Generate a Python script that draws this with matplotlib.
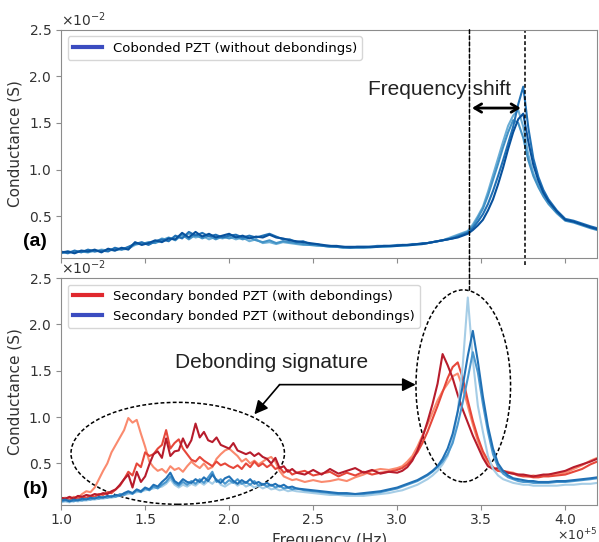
import numpy as np
import matplotlib
matplotlib.use("Agg")
import matplotlib.pyplot as plt
from matplotlib.lines import Line2D
from matplotlib.patches import Ellipse, ConnectionPatch
from matplotlib.ticker import FuncFormatter


# Frequenzraster in 1e5 Hz (fein im Resonanzbereich)
freq_oben = np.concatenate([np.arange(100, 301, 4), np.arange(303, 391, 3),
                            [395, 400, 405, 410, 415, 419]]) / 100
freq_unten = np.concatenate([np.arange(1000, 2401, 25) / 1000, np.arange(245, 301, 5) / 100,
                             np.arange(303, 391, 3) / 100, [3.95, 4.00, 4.05, 4.10, 4.15, 4.19]])

# (a) Cobonded PZT, Leitwert in 1e-2 S
oben_dunkel = [
    0.11, 0.12, 0.10, 0.13, 0.12, 0.14, 0.11, 0.15, 0.13, 0.16,
    0.14, 0.22, 0.19, 0.21, 0.24, 0.22, 0.26, 0.25, 0.32, 0.27,
    0.33, 0.28, 0.31, 0.27, 0.29, 0.31, 0.27, 0.29, 0.26, 0.28,
    0.27, 0.30, 0.27, 0.26, 0.24, 0.23, 0.22, 0.21, 0.20, 0.19,
    0.18, 0.18, 0.17, 0.17, 0.17, 0.17, 0.17, 0.17, 0.18, 0.18, 0.18,
    0.19, 0.19, 0.19, 0.20, 0.20, 0.21, 0.22, 0.23, 0.24, 0.25,
    0.26, 0.27, 0.29, 0.31, 0.35, 0.40, 0.46, 0.56, 0.68, 0.84,
    1.02, 1.22, 1.40, 1.54, 1.60, 1.30, 1.05, 0.88, 0.75, 0.66,
    0.55, 0.46, 0.44, 0.41, 0.38, 0.36,
]
oben_mittel = [
    0.12, 0.10, 0.13, 0.11, 0.14, 0.12, 0.13, 0.12, 0.16, 0.14,
    0.17, 0.20, 0.22, 0.19, 0.23, 0.25, 0.23, 0.29, 0.26, 0.33,
    0.29, 0.32, 0.28, 0.30, 0.27, 0.29, 0.30, 0.27, 0.29, 0.27,
    0.29, 0.31, 0.28, 0.25, 0.25, 0.22, 0.23, 0.20, 0.20, 0.18,
    0.18, 0.17, 0.17, 0.16, 0.17, 0.17, 0.17, 0.18, 0.18, 0.18, 0.19,
    0.19, 0.19, 0.20, 0.20, 0.21, 0.21, 0.22, 0.23, 0.24, 0.25,
    0.26, 0.28, 0.30, 0.32, 0.37, 0.44, 0.52, 0.63, 0.77, 0.93,
    1.10, 1.28, 1.46, 1.70, 1.89, 1.45, 1.12, 0.92, 0.78, 0.68,
    0.56, 0.47, 0.45, 0.42, 0.39, 0.37,
]
oben_hell = [
    0.10, 0.12, 0.11, 0.12, 0.11, 0.13, 0.12, 0.14, 0.13, 0.15,
    0.16, 0.21, 0.20, 0.22, 0.21, 0.24, 0.27, 0.24, 0.30, 0.25,
    0.30, 0.26, 0.29, 0.25, 0.28, 0.26, 0.28, 0.25, 0.27, 0.24,
    0.22, 0.24, 0.21, 0.23, 0.22, 0.21, 0.20, 0.19, 0.19, 0.18,
    0.17, 0.17, 0.16, 0.16, 0.16, 0.16, 0.17, 0.17, 0.17, 0.18, 0.18,
    0.18, 0.19, 0.19, 0.20, 0.20, 0.21, 0.22, 0.23, 0.24, 0.25,
    0.27, 0.29, 0.31, 0.33, 0.39, 0.48, 0.58, 0.72, 0.89, 1.06,
    1.24, 1.40, 1.53, 1.50, 1.34, 1.10, 0.93, 0.81, 0.71, 0.63,
    0.53, 0.45, 0.43, 0.40, 0.37, 0.35,
]
oben_sehr_hell = [
    0.11, 0.11, 0.12, 0.12, 0.13, 0.12, 0.14, 0.13, 0.15, 0.14,
    0.15, 0.19, 0.21, 0.20, 0.22, 0.26, 0.24, 0.28, 0.27, 0.31,
    0.27, 0.29, 0.25, 0.28, 0.26, 0.28, 0.25, 0.27, 0.23, 0.25,
    0.21, 0.22, 0.20, 0.22, 0.21, 0.20, 0.19, 0.19, 0.18, 0.18,
    0.17, 0.17, 0.16, 0.16, 0.16, 0.16, 0.16, 0.17, 0.17, 0.17, 0.18,
    0.18, 0.18, 0.19, 0.19, 0.20, 0.21, 0.22, 0.23, 0.24, 0.26,
    0.28, 0.30, 0.32, 0.34, 0.41, 0.50, 0.60, 0.76, 0.94, 1.12,
    1.30, 1.47, 1.58, 1.64, 1.46, 1.16, 0.96, 0.83, 0.73, 0.65,
    0.54, 0.46, 0.44, 0.41, 0.38, 0.36,
]

# (b) Secondary bonded PZT mit Abloesungen (rot)
rot_dunkel = [
    0.13, 0.12, 0.14, 0.12, 0.15, 0.14, 0.16, 0.15, 0.17, 0.16,
    0.18, 0.17, 0.20, 0.22, 0.27, 0.33, 0.38, 0.24, 0.41, 0.30,
    0.36, 0.49, 0.60, 0.63, 0.56, 0.77, 0.58, 0.63, 0.64, 0.77,
    0.67, 0.75, 0.93, 0.78, 0.84, 0.75, 0.73, 0.78, 0.70, 0.68,
    0.66, 0.72, 0.64, 0.62, 0.60, 0.62, 0.58, 0.61, 0.57, 0.55,
    0.50, 0.56, 0.45, 0.47, 0.41, 0.44, 0.40,
    0.38, 0.43, 0.38, 0.44, 0.39, 0.42, 0.45, 0.40, 0.43, 0.39, 0.41, 0.40,
    0.42, 0.46, 0.53, 0.64, 0.78, 0.95, 1.14, 1.36, 1.68, 1.56,
    1.42, 1.24, 1.08, 0.94, 0.80, 0.68, 0.56, 0.47, 0.44, 0.45,
    0.42, 0.40, 0.39, 0.38, 0.38, 0.37, 0.36, 0.37, 0.38, 0.38,
    0.40, 0.42, 0.46, 0.49, 0.52, 0.55,
]
rot_mittel = [
    0.10, 0.12, 0.11, 0.13, 0.12, 0.14, 0.13, 0.15, 0.14, 0.17,
    0.16, 0.19, 0.18, 0.22, 0.26, 0.33, 0.41, 0.37, 0.50, 0.46,
    0.62, 0.58, 0.60, 0.66, 0.70, 0.86, 0.66, 0.72, 0.76, 0.66,
    0.60, 0.54, 0.52, 0.57, 0.53, 0.50, 0.47, 0.52, 0.48, 0.50,
    0.47, 0.45, 0.48, 0.44, 0.50, 0.46, 0.52, 0.47, 0.50, 0.46,
    0.49, 0.44, 0.46, 0.40, 0.43, 0.38, 0.40,
    0.42, 0.37, 0.39, 0.41, 0.36, 0.40, 0.37, 0.41, 0.38, 0.40, 0.41, 0.43,
    0.45, 0.49, 0.55, 0.62, 0.72, 0.84, 0.98, 1.12, 1.27, 1.42,
    1.54, 1.59, 1.42, 1.18, 0.96, 0.78, 0.63, 0.53, 0.46, 0.42,
    0.41, 0.40, 0.39, 0.37, 0.36, 0.36, 0.35, 0.35, 0.36, 0.36,
    0.37, 0.38, 0.41, 0.44, 0.49, 0.52,
]
rot_hell = [
    0.12, 0.13, 0.11, 0.14, 0.13, 0.17, 0.20, 0.19, 0.24, 0.33,
    0.42, 0.50, 0.62, 0.70, 0.78, 0.86, 0.99, 0.94, 0.97, 0.82,
    0.68, 0.52, 0.46, 0.42, 0.44, 0.40, 0.47, 0.43, 0.45, 0.41,
    0.47, 0.52, 0.48, 0.45, 0.50, 0.44, 0.46, 0.55, 0.60, 0.64,
    0.66, 0.62, 0.58, 0.52, 0.55, 0.50, 0.53, 0.49, 0.52, 0.55,
    0.57, 0.52, 0.42, 0.36, 0.34, 0.32, 0.33,
    0.30, 0.32, 0.30, 0.31, 0.33, 0.31, 0.35, 0.38, 0.42, 0.44, 0.43, 0.45,
    0.47, 0.52, 0.58, 0.68, 0.80, 0.92, 1.05, 1.18, 1.28, 1.36,
    1.44, 1.47, 1.32, 1.12, 0.92, 0.74, 0.60, 0.50, 0.44, 0.42,
    0.42, 0.41, 0.40, 0.38, 0.37, 0.36, 0.37, 0.36, 0.37, 0.38,
    0.39, 0.40, 0.44, 0.48, 0.53, 0.56,
]

# (b) Secondary bonded PZT ohne Abloesungen (blau)
blau_dunkel = [
    0.10, 0.11, 0.09, 0.11, 0.10, 0.12, 0.11, 0.13, 0.12, 0.14,
    0.13, 0.15, 0.14, 0.16, 0.15, 0.18, 0.20, 0.18, 0.22, 0.20,
    0.24, 0.22, 0.27, 0.25, 0.30, 0.34, 0.40, 0.31, 0.28, 0.33,
    0.30, 0.29, 0.33, 0.30, 0.35, 0.31, 0.38, 0.32, 0.29, 0.34,
    0.36, 0.31, 0.28, 0.32, 0.29, 0.33, 0.28, 0.30, 0.27, 0.29,
    0.26, 0.28, 0.25, 0.27, 0.24, 0.25, 0.23,
    0.22, 0.21, 0.20, 0.19, 0.18, 0.18, 0.17, 0.18, 0.19, 0.20, 0.22, 0.24,
    0.26, 0.28, 0.30, 0.32, 0.35, 0.38, 0.42, 0.47, 0.55, 0.66,
    0.82, 1.06, 1.34, 1.66, 1.93, 1.60, 1.22, 0.90, 0.66, 0.50,
    0.42, 0.37, 0.34, 0.33, 0.32, 0.31, 0.31, 0.30, 0.30, 0.30,
    0.31, 0.31, 0.32, 0.33, 0.34, 0.35,
]
blau_mittel = [
    0.09, 0.10, 0.10, 0.09, 0.11, 0.10, 0.12, 0.11, 0.13, 0.12,
    0.14, 0.13, 0.15, 0.14, 0.17, 0.16, 0.19, 0.17, 0.21, 0.19,
    0.23, 0.21, 0.25, 0.23, 0.27, 0.30, 0.36, 0.29, 0.26, 0.30,
    0.27, 0.31, 0.28, 0.33, 0.29, 0.35, 0.41, 0.30, 0.33, 0.28,
    0.32, 0.29, 0.33, 0.28, 0.30, 0.27, 0.31, 0.26, 0.28, 0.25,
    0.27, 0.24, 0.26, 0.23, 0.24, 0.22, 0.23,
    0.21, 0.20, 0.19, 0.18, 0.17, 0.17, 0.17, 0.17, 0.18, 0.19, 0.21, 0.23,
    0.25, 0.27, 0.29, 0.31, 0.34, 0.37, 0.41, 0.46, 0.52, 0.60,
    0.72, 0.92, 1.16, 1.42, 1.70, 1.48, 1.14, 0.84, 0.60, 0.46,
    0.39, 0.35, 0.33, 0.31, 0.30, 0.30, 0.29, 0.29, 0.29, 0.29,
    0.30, 0.30, 0.31, 0.32, 0.33, 0.34,
]
blau_hell = [
    0.08, 0.09, 0.08, 0.10, 0.09, 0.10, 0.10, 0.11, 0.11, 0.12,
    0.12, 0.13, 0.13, 0.14, 0.15, 0.16, 0.17, 0.18, 0.19, 0.20,
    0.21, 0.22, 0.23, 0.24, 0.25, 0.28, 0.33, 0.27, 0.24, 0.27,
    0.25, 0.28, 0.26, 0.30, 0.27, 0.31, 0.28, 0.33, 0.27, 0.25,
    0.28, 0.30, 0.26, 0.29, 0.25, 0.27, 0.24, 0.26, 0.23, 0.25,
    0.22, 0.23, 0.21, 0.22, 0.20, 0.21, 0.20,
    0.19, 0.18, 0.17, 0.16, 0.16, 0.15, 0.15, 0.15, 0.16, 0.17, 0.18, 0.20,
    0.21, 0.23, 0.25, 0.27, 0.30, 0.33, 0.37, 0.42, 0.49, 0.58,
    0.76, 1.06, 1.56, 2.29, 1.62, 1.12, 0.84, 0.58, 0.44, 0.37,
    0.33, 0.31, 0.29, 0.28, 0.27, 0.27, 0.26, 0.26, 0.26, 0.26,
    0.26, 0.27, 0.27, 0.28, 0.28, 0.29,
]

X_TICKS = [1.0, 1.5, 2.0, 2.5, 3.0, 3.5, 4.0]
Y_TICKS = [0.5, 1.0, 1.5, 2.0, 2.5]
ANNO_FONT = "Liberation Sans"


def formatiere_achse(ax):
    """Achsenbereich, Ticks und graue Rahmenlinien."""
    ax.set_xlim(1.0e5, 4.19e5)
    ax.set_ylim(0.05e-2, 2.5e-2)
    ax.set_xticks(np.array(X_TICKS) * 1e5)
    ax.set_yticks(np.array(Y_TICKS) * 1e-2)
    ax.xaxis.set_major_formatter(FuncFormatter(lambda v, _: f"{v / 1e5:.1f}"))
    ax.ticklabel_format(axis="y", style="sci", scilimits=(0, 0), useMathText=True)
    ax.yaxis.get_offset_text().set_fontsize(10)
    ax.yaxis.get_offset_text().set_color("#333333")
    for s in ax.spines.values():
        s.set_color("#8c8c8c")
    ax.tick_params(colors="#8c8c8c", labelcolor="#333333", labelsize=10)
    ax.set_ylabel("Conductance (S)", fontsize=11, color="#333333")


def zeichne_kurven(ax, freq, kurven, farben):
    for werte, farbe in zip(kurven, farben):
        ax.plot(freq * 1e5, np.array(werte) * 1e-2, color=farbe, lw=1.5)


def main():
    fig = plt.figure(figsize=(5.99, 5.42), dpi=100)
    ax_a = fig.add_axes([0.102, 0.524, 0.895, 0.421])
    ax_b = fig.add_axes([0.102, 0.068, 0.895, 0.419])

    # Panel (a)
    zeichne_kurven(ax_a, freq_oben,
                   [oben_sehr_hell, oben_hell, oben_mittel, oben_dunkel],
                   ["#6baed6", "#4292c6", "#2171b5", "#08519c"])
    formatiere_achse(ax_a)
    ax_a.tick_params(labelbottom=False)
    ax_a.legend(handles=[Line2D([], [], color="#3b4cc0", lw=3)],
                labels=["Cobonded PZT (without debondings)"],
                loc="upper left", fontsize=9.5, handlelength=2.2)

    # Panel (b)
    zeichne_kurven(ax_b, freq_unten, [rot_hell, rot_mittel, rot_dunkel],
                   ["#fa8a6e", "#e6473a", "#b71c2c"])
    zeichne_kurven(ax_b, freq_unten, [blau_hell, blau_mittel, blau_dunkel],
                   ["#a6cde6", "#4b98cf", "#2171b5"])
    formatiere_achse(ax_b)
    ax_b.tick_params(axis="x", pad=2.5)
    ax_b.set_xlabel("Frequency (Hz)", fontsize=11, color="#333333")
    ax_b.text(1.0, -0.153, r"$\times10^{+5}$", transform=ax_b.transAxes,
              ha="right", va="baseline", fontsize=9, color="#333333")
    ax_b.legend(handles=[Line2D([], [], color="#e0282e", lw=3),
                         Line2D([], [], color="#3b4cc0", lw=3)],
                labels=["Secondary bonded PZT (with debondings)",
                        "Secondary bonded PZT (without debondings)"],
                loc="upper left", fontsize=9.5, handlelength=2.2)

    # Frequenzverschiebung: gestrichelte Linien und Doppelpfeil
    strich = (0, (2.5, 1.5))
    fig.add_artist(ConnectionPatch(xyA=(3.43e5, 2.5e-2), coordsA=ax_a.transData,
                                   xyB=(3.43e5, 2.37e-2), coordsB=ax_b.transData,
                                   color="black", lw=1.1, linestyle=strich))
    ax_a.axvline(3.76e5, ymin=-0.03, ymax=1.0, color="black", lw=1.1,
                 linestyle=strich, clip_on=False)
    ax_a.annotate("", xy=(3.445e5, 1.66e-2), xytext=(3.735e5, 1.66e-2),
                  arrowprops=dict(arrowstyle="<->,head_length=0.5,head_width=0.3",
                                  color="black", lw=2, shrinkA=0, shrinkB=0))
    ax_a.text(3.25e5, 1.855e-2, "Frequency shift", ha="center", va="center",
              fontsize=15, family=ANNO_FONT, color="#222222")

    # Abloesungssignatur: Ellipsen und Pfeile
    for (cx, cy, w, h) in [(1.694e5, 0.609e-2, 1.27e5, 1.10e-2),
                           (3.393e5, 1.337e-2, 0.563e5, 2.07e-2)]:
        ax_b.add_patch(Ellipse((cx, cy), w, h, fill=False, edgecolor="black",
                               lw=1.1, linestyle=strich))
    ecke = (2.30e5, 1.35e-2)
    for ziel in [(2.15e5, 1.03e-2), (3.11e5, 1.35e-2)]:
        ax_b.annotate("", xy=ziel, xytext=ecke,
                      arrowprops=dict(arrowstyle="-|>", color="black", lw=1.2,
                                      mutation_scale=20, shrinkA=0, shrinkB=0))
    ax_b.text(2.25e5, 1.59e-2, "Debonding signature", ha="center", va="center",
              fontsize=15, family=ANNO_FONT, color="#222222")

    fig.text(35 / 599, 1 - 242 / 542, "(a)", fontsize=14, fontweight="bold",
             family=ANNO_FONT, ha="center", va="center")
    fig.text(35 / 599, 1 - 490 / 542, "(b)", fontsize=14, fontweight="bold",
             family=ANNO_FONT, ha="center", va="center")

    fig.savefig("out.png", dpi=100)


if __name__ == "__main__":
    main()
